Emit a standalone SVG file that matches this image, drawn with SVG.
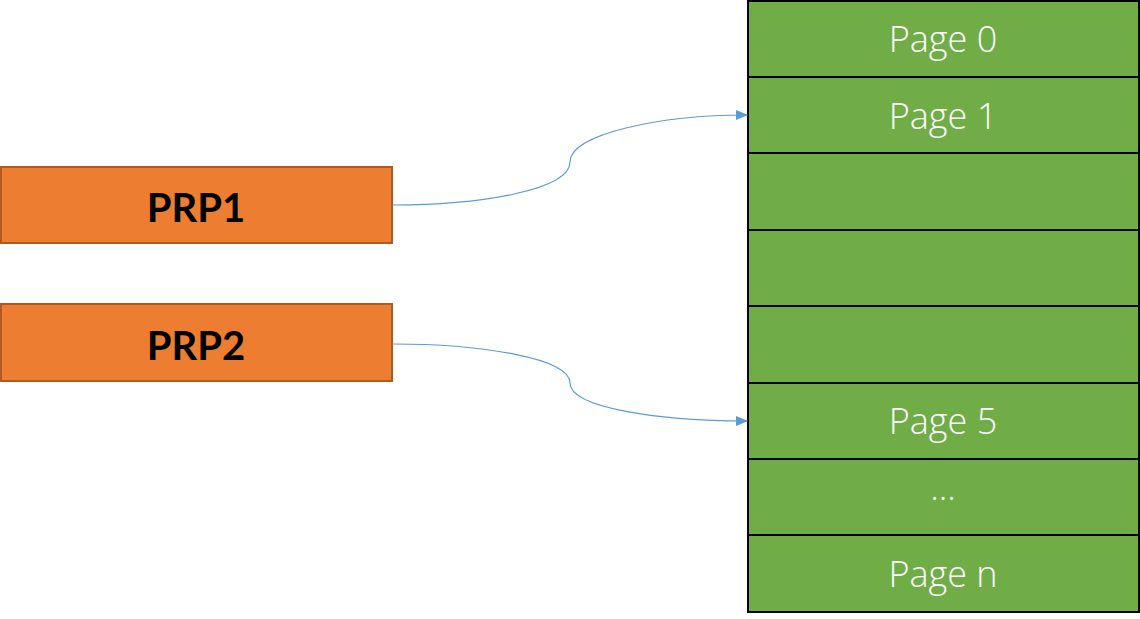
<svg xmlns="http://www.w3.org/2000/svg" width="1140" height="619" viewBox="0 0 1140 619">
<defs>
<style>
.page{fill:#70AD47;stroke:#000;stroke-width:2}
.pt{fill:#fff;font-family:"Open Sans","Noto Sans","DejaVu Sans",sans-serif;font-weight:300;font-size:36px;text-anchor:middle}
.prp{fill:#ED7D31;stroke:#AE5A21;stroke-width:2}
.prt{fill:#000;font-family:Lato,"Liberation Sans",sans-serif;font-weight:bold;font-size:40px;text-anchor:middle}
.conn{fill:none;stroke:#5B9BD5;stroke-width:1.2}
</style>
<marker id="arr" markerWidth="12" markerHeight="10" refX="11" refY="5" orient="auto" markerUnits="userSpaceOnUse">
<path d="M0,0 L12,5 L0,10 Z" fill="#5B9BD5"/>
</marker>
</defs>
<rect width="1140" height="619" fill="#fff"/>
<g id="page0"><rect class="page" x="748" y="1" width="391" height="76"/><text class="pt" x="943" y="52">Page 0</text></g>
<g id="page1"><rect class="page" x="748" y="77" width="391" height="76"/><text class="pt" x="943" y="129">Page 1</text></g>
<g id="page2"><rect class="page" x="748" y="153" width="391" height="77"/></g>
<g id="page3"><rect class="page" x="748" y="230" width="391" height="76"/></g>
<g id="page4"><rect class="page" x="748" y="306" width="391" height="77"/></g>
<g id="page5"><rect class="page" x="748" y="383" width="391" height="76"/><text class="pt" x="943" y="434">Page 5</text></g>
<g id="pagedots"><rect class="page" x="748" y="459" width="391" height="76"/><text class="pt" x="943" y="500">...</text></g>
<g id="pagen"><rect class="page" x="748" y="535" width="391" height="77"/><text class="pt" x="943" y="587">Page n</text></g>
<g id="prp1"><rect class="prp" x="1" y="167" width="391" height="76"/><text class="prt" x="196" y="222">PRP1</text></g>
<g id="prp2"><rect class="prp" x="1" y="304" width="391" height="77"/><text class="prt" x="196" y="360">PRP2</text></g>
<g id="connectors">
<path class="conn" marker-end="url(#arr)" d="M393,205 C480,205 570,190 570,162 C570,134 660,115 747,115"/>
<path class="conn" marker-end="url(#arr)" d="M393,344 C480,344 570,358 570,383 C570,408 660,421 747,421"/>
</g>
</svg>
